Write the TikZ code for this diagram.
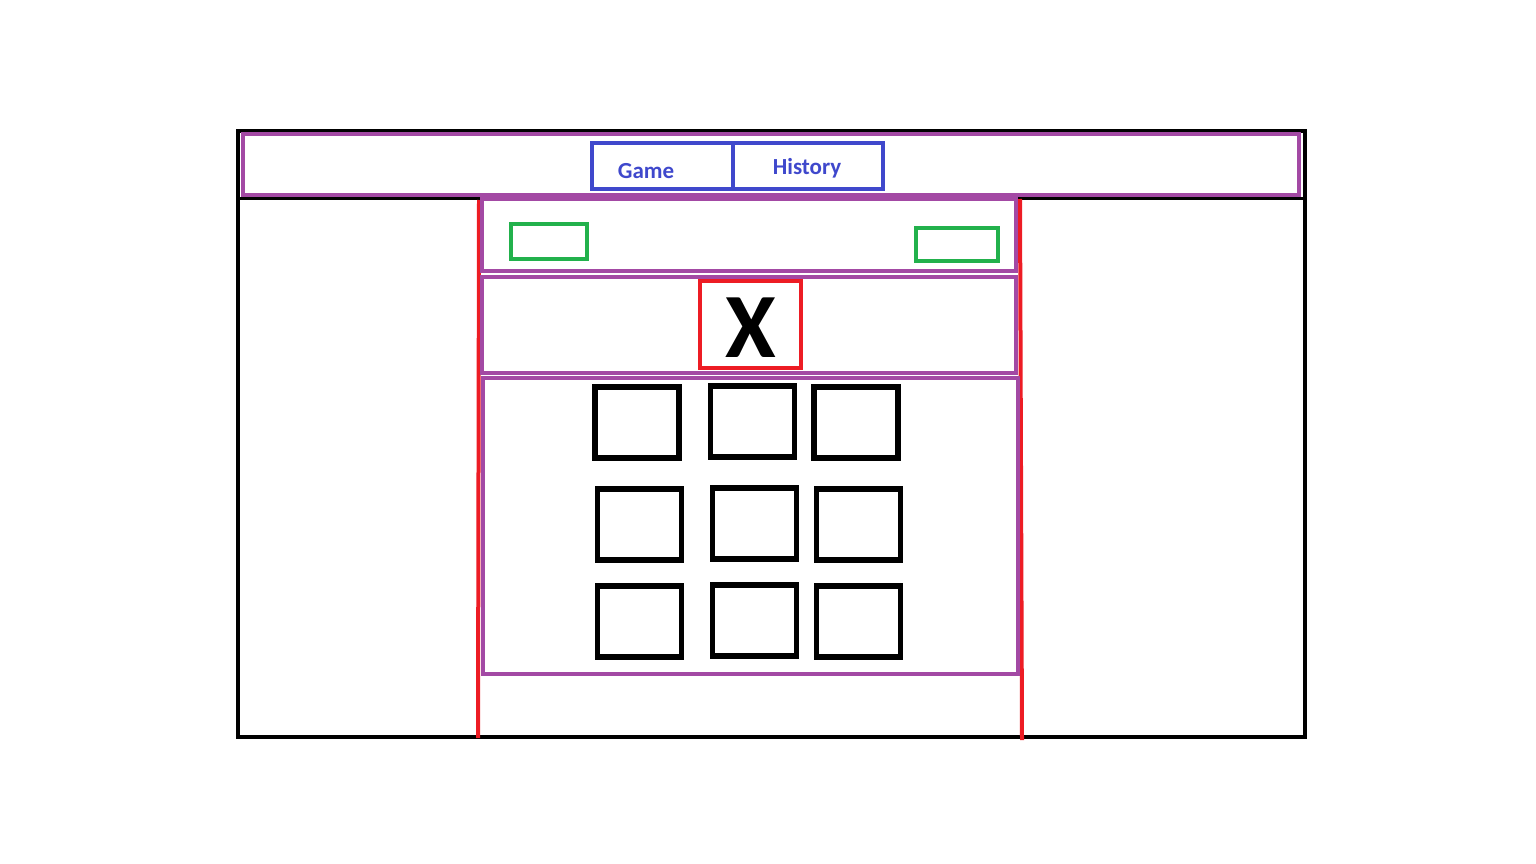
\documentclass[tikz,border=0pt]{standalone}
\usepackage{fontspec}
\setmainfont{Carlito}
\definecolor{ppurple}{HTML}{A349A4}
\definecolor{pblue}{HTML}{3F48CC}
\definecolor{pgreen}{HTML}{22B14C}
\definecolor{pred}{HTML}{ED1C24}
\begin{document}
\begin{tikzpicture}[x=1pt,y=-1pt,
  box/.style={draw,rectangle,inner sep=0pt,outer sep=0pt,line width=4.5pt,minimum width=#1},
  pbox/.style={box=#1,draw=ppurple},
  tab/.style={box=#1,draw=pblue},
  gbox/.style={box=#1,draw=pgreen},
  cell/.style={box=84pt,minimum height=71pt,line width=5.5pt,draw=black},
  tabtext/.style={text=pblue,font=\fontsize{23}{23}\selectfont\bfseries,inner sep=0pt},
  redline/.style={draw=pred,line width=4pt}]
\path[use as bounding box] (0,0) rectangle (1536,864);
% outer frame
\node[box=1067pt,minimum height=606pt] (outer) at (771.5,434) {};
\coordinate (hl) at (238,198.5);
\coordinate (hr) at (1303,198.5);
\draw[line width=3.5pt] (hl) -- (hr);
% header
\node[pbox=1056pt,minimum height=61pt] (header) at (771,164.5) {};
\node[tab=141pt,minimum height=46pt] (gametab) at (662.5,166) {};
\node[tab=150pt,minimum height=46pt] (histtab) at (808,166) {};
\node[tabtext] (game) at (646,171) {Game};
\node[tabtext] (hist) at (807,168) {History};
% red side lines
\coordinate (l1) at (479,200);
\coordinate (l2) at (478,738);
\coordinate (r1) at (1020,199);
\coordinate (r2) at (1022,740);
\draw[redline] (l1) -- (l2);
\draw[redline] (r1) -- (r2);
% panel 2
\node[pbox=534pt,minimum height=72pt] (panelA) at (749,235) {};
\node[gbox=76pt,minimum height=35pt] (btnL) at (549,241.5) {};
\node[gbox=82pt,minimum height=33pt] (btnR) at (957,244.5) {};
% panel 3
\node[pbox=534pt,minimum height=96pt] (panelB) at (749,325) {};
\node[box=101pt,minimum height=87pt,draw=pred] (turn) at (750.5,324.5) {};
\node[font=\fontsize{92}{92}\selectfont\bfseries,inner sep=0pt] (xmark) at (751,328) {X};
% panel 4
\node[pbox=535pt,minimum height=296pt] (board) at (750.5,526) {};
\node[cell] (c11) at (637,422.5) {};
\node[cell] (c12) at (752.5,421.5) {};
\node[cell] (c13) at (856,422.5) {};
\node[cell] (c21) at (639.5,524.5) {};
\node[cell] (c22) at (754.5,523.5) {};
\node[cell] (c23) at (858.5,524.5) {};
\node[cell] (c31) at (639.5,621.5) {};
\node[cell] (c32) at (754.5,620.5) {};
\node[cell] (c33) at (858.5,621.5) {};
\end{tikzpicture}
\end{document}
